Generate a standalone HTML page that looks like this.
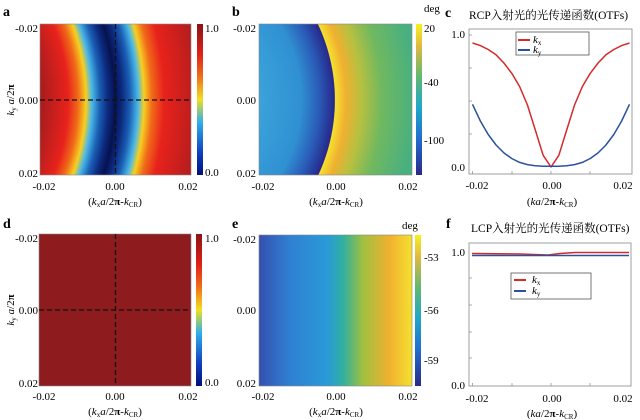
<!DOCTYPE html>
<html><head><meta charset="utf-8"><style>
html,body{margin:0;padding:0;background:#fff;}
svg{display:block;font-family:"Liberation Serif","Noto Serif CJK SC",serif;}
</style></head><body>
<svg width="640" height="420" viewBox="0 0 640 420" xmlns="http://www.w3.org/2000/svg">
<defs>
<radialGradient id="ga" gradientUnits="userSpaceOnUse" cx="-132" cy="100" r="400">
<stop offset="0.43" stop-color="#a51c1e"/>
<stop offset="0.50" stop-color="#e8221c"/>
<stop offset="0.525" stop-color="#f06a18"/>
<stop offset="0.545" stop-color="#f6d020"/>
<stop offset="0.56" stop-color="#4ab8e8"/>
<stop offset="0.58" stop-color="#1a5fb4"/>
<stop offset="0.60" stop-color="#0c2a80"/>
<stop offset="0.6175" stop-color="#07124f"/>
<stop offset="0.635" stop-color="#0c2a80"/>
<stop offset="0.655" stop-color="#1a5fb4"/>
<stop offset="0.675" stop-color="#4ab8e8"/>
<stop offset="0.69" stop-color="#f6d020"/>
<stop offset="0.71" stop-color="#f06a18"/>
<stop offset="0.74" stop-color="#e8221c"/>
<stop offset="0.85" stop-color="#a51c1e"/>
</radialGradient>
<radialGradient id="gb" gradientUnits="userSpaceOnUse" cx="157" cy="100" r="300">
<stop offset="0.34" stop-color="#3aa2da"/>
<stop offset="0.48" stop-color="#3090d2"/>
<stop offset="0.54" stop-color="#2a5cb8"/>
<stop offset="0.592" stop-color="#27278a"/>
<stop offset="0.594" stop-color="#f5e030"/>
<stop offset="0.63" stop-color="#f0b030"/>
<stop offset="0.68" stop-color="#b8c040"/>
<stop offset="0.75" stop-color="#70b860"/>
<stop offset="0.86" stop-color="#48b080"/>
</radialGradient>
<linearGradient id="ge" x1="0" y1="0" x2="1" y2="0">
<stop offset="0" stop-color="#3550b0"/>
<stop offset="0.2" stop-color="#2f80d2"/>
<stop offset="0.45" stop-color="#2a9ad8"/>
<stop offset="0.55" stop-color="#30b0a0"/>
<stop offset="0.68" stop-color="#a0c040"/>
<stop offset="0.85" stop-color="#f0b030"/>
<stop offset="1" stop-color="#f5e030"/>
</linearGradient>
<linearGradient id="jet" x1="0" y1="1" x2="0" y2="0">
<stop offset="0" stop-color="#00107a"/>
<stop offset="0.15" stop-color="#1040c0"/>
<stop offset="0.35" stop-color="#30b0e8"/>
<stop offset="0.5" stop-color="#f0e020"/>
<stop offset="0.65" stop-color="#f07018"/>
<stop offset="0.8" stop-color="#e02018"/>
<stop offset="1" stop-color="#8a1416"/>
</linearGradient>
<linearGradient id="par" x1="0" y1="1" x2="0" y2="0">
<stop offset="0" stop-color="#2a2a8a"/>
<stop offset="0.25" stop-color="#2070d0"/>
<stop offset="0.45" stop-color="#20a8c8"/>
<stop offset="0.65" stop-color="#60b870"/>
<stop offset="0.85" stop-color="#e0b840"/>
<stop offset="1" stop-color="#f8f020"/>
</linearGradient>
</defs>

<g font-size="11">
<!-- panel a -->
<text x="3" y="16" font-weight="bold" font-size="14">a</text>
<rect x="40" y="24" width="151" height="151" fill="url(#ga)" stroke="#888" stroke-width="0.6"/>
<line x1="115.5" y1="24" x2="115.5" y2="175" stroke="#111" stroke-width="1.3" stroke-dasharray="5,3"/>
<line x1="40" y1="100" x2="191" y2="100" stroke="#111" stroke-width="1.3" stroke-dasharray="5,3"/>
<rect x="197" y="24" width="6" height="151" fill="url(#jet)"/>
<text x="205" y="32">1.0</text><text x="205" y="176">0.0</text>
<g text-anchor="end"><text x="38" y="32">-0.02</text><text x="38" y="104">0.00</text><text x="38" y="177">0.02</text></g>
<g text-anchor="middle"><text x="44" y="190">-0.02</text><text x="115" y="190">0.00</text><text x="188" y="190">0.02</text>
<text x="115" y="205">(<tspan font-style="italic">k</tspan><tspan font-size="7" dy="2">x</tspan><tspan dy="-2" font-style="italic">a</tspan>/2<tspan font-weight="bold">π</tspan>-<tspan font-style="italic">k</tspan><tspan font-size="7" dy="2">CR</tspan><tspan dy="-2">)</tspan></text></g>
<text transform="translate(14,100) rotate(-90)" text-anchor="middle"><tspan font-style="italic">k</tspan><tspan font-size="7" dy="2">y</tspan><tspan dy="-2" font-style="italic"> a</tspan>/2<tspan font-weight="bold">π</tspan></text>

<!-- panel b -->
<text x="232" y="16" font-weight="bold" font-size="14">b</text>
<rect x="259" y="24" width="153" height="151" fill="url(#gb)" stroke="#888" stroke-width="0.6"/>
<rect x="416" y="24" width="6" height="151" fill="url(#par)"/>
<text x="424" y="12">deg</text>
<text x="424" y="32">20</text><text x="424" y="86">-40</text><text x="424" y="144">-100</text>
<g text-anchor="end"><text x="256" y="32">-0.02</text><text x="256" y="104">0.00</text><text x="256" y="177">0.02</text></g>
<g text-anchor="middle"><text x="263" y="190">-0.02</text><text x="336" y="190">0.00</text><text x="408" y="190">0.02</text>
<text x="336" y="205">(<tspan font-style="italic">k</tspan><tspan font-size="7" dy="2">x</tspan><tspan dy="-2" font-style="italic">a</tspan>/2<tspan font-weight="bold">π</tspan>-<tspan font-style="italic">k</tspan><tspan font-size="7" dy="2">CR</tspan><tspan dy="-2">)</tspan></text></g>

<!-- panel c -->
<text x="445" y="17" font-weight="bold" font-size="14">c</text>
<text x="469" y="19" font-size="11.5">RCP入射光的光传递函数(OTFs)</text>
<rect x="469" y="29" width="163" height="145" fill="#fff" stroke="#888" stroke-width="0.8"/>
<g stroke="#888" stroke-width="0.7">
<line x1="469" y1="35" x2="472" y2="35"/><line x1="469" y1="68" x2="472" y2="68"/><line x1="469" y1="101" x2="472" y2="101"/><line x1="469" y1="134" x2="472" y2="134"/>
<line x1="472.5" y1="174" x2="472.5" y2="171"/><line x1="512" y1="174" x2="512" y2="171"/><line x1="551" y1="174" x2="551" y2="171"/><line x1="590" y1="174" x2="590" y2="171"/>
</g>
<g text-anchor="end"><text x="465" y="38">1.0</text><text x="465" y="171">0.0</text></g>
<polyline fill="none" stroke="#d42a2a" stroke-width="1.5" stroke-linejoin="round" points="472.5,43 480.35,45.6 488.2,49.5 496.05,54.8 503.9,63 511.75,73.3 519.6,86.5 527.45,105 535.3,130 543.15,155.3 551,167 558.85,155.3 566.7,130 574.55,105 582.4,86.5 590.25,73.3 598.1,63 605.95,54.8 613.8,49.5 621.65,45.6 629.5,43"/>
<polyline fill="none" stroke="#2a52a0" stroke-width="1.5" stroke-linejoin="round" points="472.5,104.3 480.35,121 488.2,134.5 496.05,145 503.9,152.9 511.75,158.5 519.6,162.4 527.45,164.6 535.3,165.8 543.15,166.3 551,166.3 558.85,166.3 566.7,165.8 574.55,164.6 582.4,162.4 590.25,158.5 598.1,152.9 605.95,145 613.8,134.5 621.65,121 629.5,104.3"/>
<rect x="516" y="32" width="73" height="23" fill="#fff" stroke="#555" stroke-width="0.8"/>
<line x1="518" y1="40" x2="530" y2="40" stroke="#d42a2a" stroke-width="2"/>
<line x1="518" y1="50" x2="530" y2="50" stroke="#2a52a0" stroke-width="2"/>
<text x="533" y="43" font-style="italic">k<tspan font-size="7" dy="2" font-style="normal">x</tspan></text>
<text x="533" y="53" font-style="italic">k<tspan font-size="7" dy="2" font-style="normal">y</tspan></text>
<g text-anchor="middle"><text x="477" y="189">-0.02</text><text x="552" y="189">0.00</text><text x="623" y="189">0.02</text>
<text x="552" y="205">(<tspan font-style="italic">ka</tspan>/2<tspan font-weight="bold">π</tspan>-<tspan font-style="italic">k</tspan><tspan font-size="7" dy="2">CR</tspan><tspan dy="-2">)</tspan></text></g>

<!-- panel d -->
<text x="3" y="228" font-weight="bold" font-size="14">d</text>
<rect x="39" y="234" width="152" height="152" fill="#8e1c1e" stroke="#888" stroke-width="0.6"/>
<line x1="115.5" y1="234" x2="115.5" y2="386" stroke="#111" stroke-width="1.3" stroke-dasharray="5,3"/>
<line x1="39" y1="310" x2="191" y2="310" stroke="#111" stroke-width="1.3" stroke-dasharray="5,3"/>
<rect x="196" y="234" width="6" height="152" fill="url(#jet)"/>
<text x="205" y="242">1.0</text><text x="205" y="386">0.0</text>
<g text-anchor="end"><text x="38" y="242">-0.02</text><text x="38" y="314">0.00</text><text x="38" y="387">0.02</text></g>
<g text-anchor="middle"><text x="44" y="400">-0.02</text><text x="115" y="400">0.00</text><text x="188" y="400">0.02</text>
<text x="115" y="415">(<tspan font-style="italic">k</tspan><tspan font-size="7" dy="2">x</tspan><tspan dy="-2" font-style="italic">a</tspan>/2<tspan font-weight="bold">π</tspan>-<tspan font-style="italic">k</tspan><tspan font-size="7" dy="2">CR</tspan><tspan dy="-2">)</tspan></text></g>
<text transform="translate(14,310) rotate(-90)" text-anchor="middle"><tspan font-style="italic">k</tspan><tspan font-size="7" dy="2">y</tspan><tspan dy="-2" font-style="italic"> a</tspan>/2<tspan font-weight="bold">π</tspan></text>

<!-- panel e -->
<text x="232" y="228" font-weight="bold" font-size="14">e</text>
<rect x="259" y="235" width="153" height="151" fill="url(#ge)" stroke="#888" stroke-width="0.6"/>
<rect x="415" y="235" width="6" height="151" fill="url(#par)"/>
<text x="402" y="229">deg</text>
<text x="424" y="261">-53</text><text x="424" y="314">-56</text><text x="424" y="364">-59</text>
<g text-anchor="end"><text x="256" y="243">-0.02</text><text x="256" y="314">0.00</text><text x="256" y="387">0.02</text></g>
<g text-anchor="middle"><text x="263" y="400">-0.02</text><text x="336" y="400">0.00</text><text x="408" y="400">0.02</text>
<text x="336" y="415">(<tspan font-style="italic">k</tspan><tspan font-size="7" dy="2">x</tspan><tspan dy="-2" font-style="italic">a</tspan>/2<tspan font-weight="bold">π</tspan>-<tspan font-style="italic">k</tspan><tspan font-size="7" dy="2">CR</tspan><tspan dy="-2">)</tspan></text></g>

<!-- panel f -->
<text x="446" y="228" font-weight="bold" font-size="14">f</text>
<text x="471" y="232" font-size="11.5">LCP入射光的光传递函数(OTFs)</text>
<rect x="469" y="243" width="162" height="143" fill="#fff" stroke="#888" stroke-width="0.8"/>
<g stroke="#888" stroke-width="0.7">
<line x1="469" y1="278" x2="472" y2="278"/><line x1="469" y1="305" x2="472" y2="305"/><line x1="469" y1="332" x2="472" y2="332"/><line x1="469" y1="358" x2="472" y2="358"/>
<line x1="472.5" y1="386" x2="472.5" y2="383"/><line x1="512" y1="386" x2="512" y2="383"/><line x1="551" y1="386" x2="551" y2="383"/><line x1="590" y1="386" x2="590" y2="383"/>
</g>
<g text-anchor="end"><text x="465" y="256">1.0</text><text x="465" y="389">0.0</text></g>
<polyline fill="none" stroke="#d42a2a" stroke-width="1.5" points="472,253.5 520,254 548,255 560,253.5 575,252.5 629,252.5"/>
<polyline fill="none" stroke="#2a52a0" stroke-width="1.5" points="472,255.5 629,255.5"/>
<rect x="511" y="273" width="80" height="26" fill="#fff" stroke="#555" stroke-width="0.8"/>
<line x1="514" y1="280" x2="526" y2="280" stroke="#d42a2a" stroke-width="2"/>
<line x1="514" y1="291" x2="526" y2="291" stroke="#2a52a0" stroke-width="2"/>
<text x="532" y="283" font-style="italic">k<tspan font-size="7" dy="2" font-style="normal">x</tspan></text>
<text x="532" y="294" font-style="italic">k<tspan font-size="7" dy="2" font-style="normal">y</tspan></text>
<g text-anchor="middle"><text x="477" y="402">-0.02</text><text x="552" y="402">0.00</text><text x="623" y="402">0.02</text>
<text x="552" y="417">(<tspan font-style="italic">ka</tspan>/2<tspan font-weight="bold">π</tspan>-<tspan font-style="italic">k</tspan><tspan font-size="7" dy="2">CR</tspan><tspan dy="-2">)</tspan></text></g>
</g>
</svg>
</body></html>
